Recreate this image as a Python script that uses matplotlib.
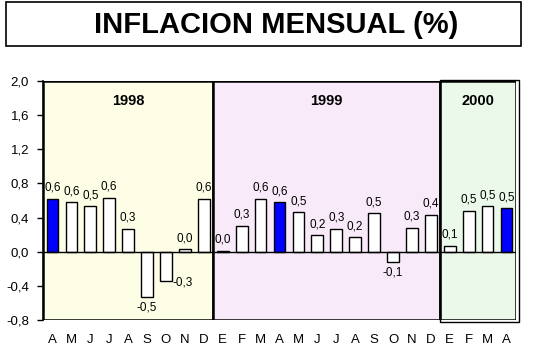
import numpy as np
import matplotlib.pyplot as plt
from matplotlib.patches import Rectangle

plt.rcParams['font.family'] = ['Liberation Sans', 'DejaVu Sans']

months = ['A', 'M', 'J', 'J', 'A', 'S', 'O', 'N', 'D',
          'E', 'F', 'M', 'A', 'M', 'J', 'J', 'A', 'S', 'O', 'N', 'D',
          'E', 'F', 'M', 'A']
values = [0.62, 0.58, 0.53, 0.63, 0.27, -0.53, -0.34, 0.03, 0.62,
          0.01, 0.30, 0.62, 0.58, 0.46, 0.19, 0.27, 0.17, 0.45, -0.12, 0.28, 0.43,
          0.07, 0.48, 0.53, 0.51]
labels = ['0,6', '0,6', '0,5', '0,6', '0,3', '-0,5', '-0,3', '0,0', '0,6',
          '0,0', '0,3', '0,6', '0,6', '0,5', '0,2', '0,3', '0,2', '0,5', '-0,1', '0,3', '0,4',
          '0,1', '0,5', '0,5', '0,5']
highlight = [0, 12, 24]
years = ['1998', '1999', '2000']
year_months = [9, 12, 4]
year_colors = ['#fefee6', '#f9eaf9', '#eaf9ea']
yticks = [-0.8, -0.4, 0.0, 0.4, 0.8, 1.2, 1.6, 2.0]

fig = plt.figure(figsize=(5.39, 3.58), dpi=100)

# title box
fig.patches.append(Rectangle((6 / 539, 1 - 46 / 358), 515 / 539, 44 / 358,
                             transform=fig.transFigure, fill=False,
                             edgecolor='black', linewidth=1.2))
fig.text(276 / 539, 1 - 25 / 358, 'INFLACION MENSUAL (%)', ha='center', va='center',
         fontsize=21, fontweight='bold')

ax = fig.add_axes([43 / 539, 38 / 358, 473 / 539, 239 / 358])
n = len(values)
x = np.arange(n)
ax.set_xlim(-0.5, n - 0.5)
ax.set_ylim(-0.8, 2.0)

# year panels
start = -0.5
for yr, nm, col in zip(years, year_months, year_colors):
    ax.add_patch(Rectangle((start, -0.8), nm, 2.8, facecolor=col,
                           edgecolor='black', linewidth=1.8, zorder=0))
    ax.text(start + nm / 2, 1.76, yr, ha='center', va='center',
            fontsize=10.5, fontweight='bold')
    start += nm
# double border of last panel
last0 = start - year_months[-1]
ax.add_patch(Rectangle((last0, -0.8 - 0.025), year_months[-1] + 0.17, 2.8 + 0.04,
                       fill=False, edgecolor='black', linewidth=1.0,
                       clip_on=False, zorder=3))

colors = ['#0000ff' if i in highlight else 'white' for i in range(n)]
ax.bar(x, values, width=0.62, color=colors, edgecolor='black', linewidth=1.0, zorder=2)
ax.axhline(0, color='black', linewidth=1.0, zorder=3)

for i, (v, lb) in enumerate(zip(values, labels)):
    if i == 6:
        ax.text(i + 0.35, v - 0.02, lb, ha='left', va='center', fontsize=8.5)
    elif v < 0:
        ax.text(i, v - 0.05, lb, ha='center', va='top', fontsize=8.5)
    else:
        ax.text(i, v + 0.06, lb, ha='center', va='bottom', fontsize=8.5)

ax.set_yticks(yticks)
ax.set_yticklabels([f'{t:.1f}'.replace('.', ',') for t in yticks], fontsize=9.5)
ax.set_xticks(x)
ax.set_xticklabels(months, fontsize=9.5)
ax.tick_params(axis='x', length=0, pad=10)
ax.tick_params(axis='y', length=4, width=1, direction='out', pad=6)
for s in ['top', 'right', 'bottom']:
    ax.spines[s].set_visible(False)
ax.spines['left'].set_linewidth(1.2)

fig.savefig('out.png', dpi=100)
